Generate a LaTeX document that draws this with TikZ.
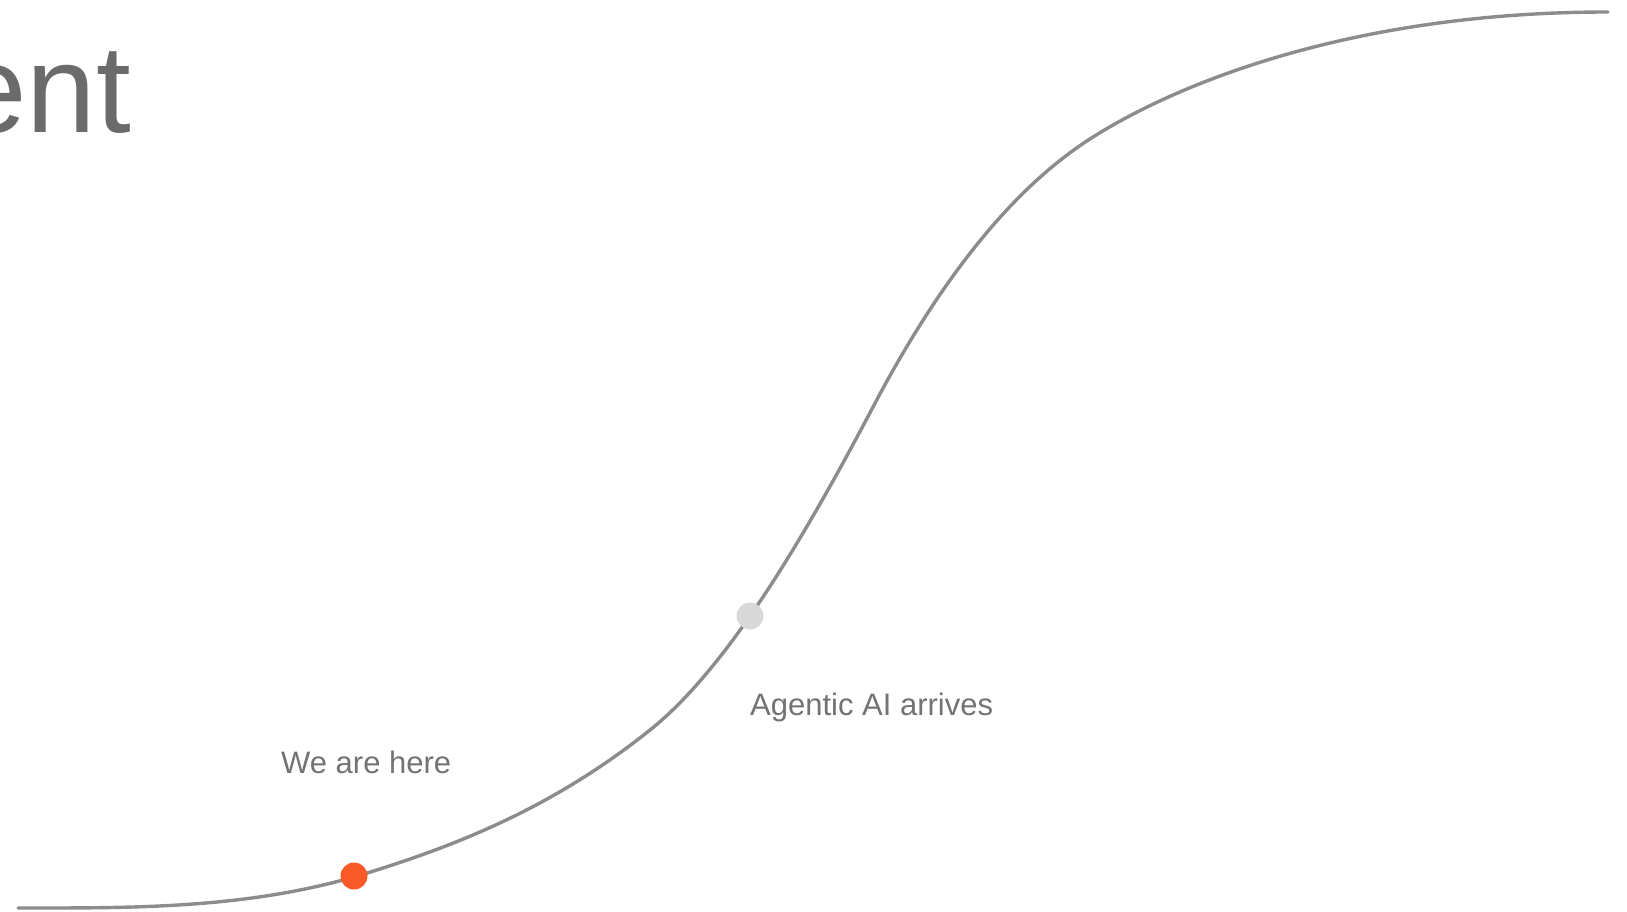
\documentclass[tikz,border=0pt]{standalone}
\usepackage{fontspec}
\setmainfont{Liberation Sans}
\usetikzlibrary{positioning}
\usepackage{xcolor}
\definecolor{curvegray}{HTML}{8C8C8C}
\definecolor{textgray}{HTML}{6B6B6B}
\definecolor{lblgray}{HTML}{737373}
\definecolor{nowred}{HTML}{FA5A28}
\definecolor{dotgray}{HTML}{D9D9D9}

\begin{document}
\begin{tikzpicture}[x=1pt, y=-1pt,
      curve/.style={line width=3.4pt, curvegray, line cap=round},
      dot/.style={circle, inner sep=0pt, minimum size=27pt},
      lbl/.style={inner sep=0pt, font=\fontsize{31}{37}\selectfont, text=lblgray}
    ]
      \useasboundingbox (0,0) rectangle (1627,912);

      % title, cut at the left edge
      \node[inner sep=0pt, anchor=base east, text=textgray,
            font=\fontsize{125}{150}\selectfont] (title) at (131,133) {ent};

      % adoption curve
      \draw[curve] (18,908) .. controls (130,908) and (242,909) .. (354,877)
        .. controls (452.7,847.4) and (551.3,809) .. (650,730)
        .. controls (724.3,670.6) and (798.7,548.2) .. (873,407)
        .. controls (946.3,267.7) and (1019.7,183.2) .. (1093,137)
        .. controls (1183,80.3) and (1358,12) .. (1608,12);

      \node[dot, fill=nowred] (now) at (354,876) {};
      \node[dot, fill=dotgray] (agentic) at (750,616) {};

      \node[lbl, anchor=base west] (here) at (281,773) {We are here};
      \node[lbl, anchor=base west] (arrives) at (750,715) {Agentic AI arrives};
    \end{tikzpicture}
\end{document}
